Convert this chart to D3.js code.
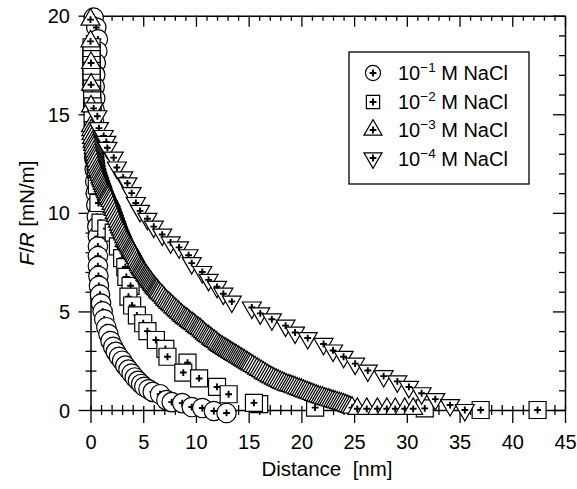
<!DOCTYPE html>
<html><head><meta charset="utf-8">
<script src="https://cdn.jsdelivr.net/npm/d3@7"></script>
<style>
body{margin:0;background:#fff}
svg{display:block}
text{font-family:"Liberation Sans",Arial,Helvetica,sans-serif;fill:#000}
</style>
</head><body>
<svg id="c" width="577" height="489"></svg>
<script>
// ---- data ----
const legendExponents = ["−1", "−2", "−3", "−4"];
const legendUnit = " M NaCl";
const xTickLabels = [0, 5, 10, 15, 20, 25, 30, 35, 40, 45];
const yTickLabels = [0, 5, 10, 15, 20];
const xTitle = "Distance  [nm]";

// 10^-1 M NaCl (circles)
const nacl1 = [[0.3,19.9],[0.55,19.4],[0.7,18.8],[0.65,18.2],[0.5,17.6],[0.45,17.0],[0.4,16.4],[0.45,15.8],[0.4,15.2],[0.35,14.6],[0.3,14.0],[0.3,13.4],[0.35,12.8],[0.4,12.2],[0.45,11.6],[0.5,11.0],[0.55,10.4],[0.6,9.8],[0.65,9.3],[0.7,8.8],[0.7,8.3],[0.7,7.8],[0.7,7.3],[0.75,6.8],[0.8,6.3],[0.9,5.85],[1.0,5.4],[1.15,5.0],[1.3,4.6],[1.5,4.2],[1.7,3.85],[1.9,3.5],[2.15,3.2],[2.4,2.95],[2.7,2.7],[3.0,2.5],[3.3,2.25],[3.6,2.05],[3.9,1.85],[4.2,1.65],[4.5,1.48],[4.8,1.32],[5.1,1.18],[5.5,1.05],[5.9,0.92],[6.6,0.8],[7.2,0.5],[7.7,0.4],[8.7,0.35],[9.6,0.15],[10.6,0.1],[11.7,-0.05],[12.9,-0.15]];

// 10^-2 M NaCl (squares)
const nacl2 = [[0.1,18.4],[0.1,18.1],[0.1,17.8],[0.1,17.5],[0.1,17.2],[0.1,16.9],[0.1,16.6],[0.15,16.3],[0.15,16.0],[0.15,15.7],[0.2,15.4],[0.2,14.8],[0.25,14.2],[0.3,13.6],[0.4,13.0],[0.5,12.2],[0.6,11.4],[0.75,10.5],[0.95,9.5],[1.5,9.2],[2.2,9.0],[2.6,8.3],[3.0,7.7],[3.3,7.25],[3.4,6.75],[3.8,6.3],[3.6,5.75],[3.95,5.3],[4.4,4.8],[5.0,4.4],[5.4,4.0],[6.2,3.55],[7.1,3.1],[7.3,2.7],[9.2,2.4],[8.8,1.9],[10.3,1.6],[12.0,1.17],[13.1,0.8],[16.0,0.3],[15.5,0.36],[21.3,0.12],[31.7,0.08],[37.0,0.0],[42.4,0.0]];

// 10^-3 M NaCl (up triangles)
const nacl3 = [[0.0,19.8],[0.0,18.7],[0.05,17.6],[0.05,16.5],[0.05,15.4],
[0.05,14.4],[0.08,14.2],[0.1,14.0],[0.15,13.8],[0.2,13.6],[0.25,13.45],[0.3,13.3],[0.35,13.12],[0.4,12.95],[0.45,12.8],[0.5,12.65],[0.57,12.47],[0.65,12.3],[0.72,12.17],[0.8,12.05],[0.87,11.92],[0.95,11.8],[1.02,11.7],[1.1,11.6],[1.17,11.47],[1.25,11.35],[1.32,11.25],[1.4,11.15],[1.47,11.05],[1.55,10.95],[1.62,10.87],[1.7,10.8],[1.8,10.7],[1.9,10.6],[2.0,10.45],[2.1,10.3],[2.2,10.15],[2.3,10.0],[2.4,9.85],[2.5,9.7],[2.6,9.55],[2.7,9.4],[2.8,9.27],[2.9,9.15],[3.0,9.02],[3.1,8.9],[3.2,8.77],[3.3,8.65],[3.4,8.55],[3.5,8.45],[3.6,8.35],[3.7,8.25],[3.8,8.17],[3.9,8.1],[4.0,8.0],[4.1,7.9],[4.2,7.8],[4.3,7.7],[4.4,7.57],[4.5,7.45],[4.6,7.35],[4.7,7.25],[4.8,7.17],[4.9,7.1],[5.0,7.02],[5.1,6.95],[5.2,6.87],[5.3,6.8],[5.4,6.72],[5.5,6.65],[5.6,6.57],[5.7,6.5],[5.8,6.42],[5.9,6.35],[6.0,6.27],[6.1,6.2],[6.2,6.15],[6.3,6.1],[6.4,6.02],[6.5,5.95],[6.65,5.87],[6.8,5.8],[6.95,5.7],[7.1,5.6],[7.25,5.52],[7.4,5.45],[7.55,5.37],[7.7,5.3],[7.85,5.22],[8.0,5.15],[8.15,5.07],[8.3,5.0],[8.45,4.92],[8.6,4.85],[8.75,4.77],[8.9,4.7],[9.05,4.65],[9.2,4.6],[9.35,4.52],[9.5,4.45],[9.65,4.4],[9.8,4.35],[9.95,4.27],[10.1,4.2],[10.25,4.15],[10.4,4.1],[10.55,4.02],[10.7,3.95],[10.85,3.87],[11.0,3.8],[11.15,3.75],[11.3,3.7],[11.45,3.62],[11.6,3.55],[11.75,3.5],[11.9,3.45],[12.05,3.37],[12.2,3.3],[12.35,3.25],[12.5,3.2],[12.65,3.15],[12.8,3.1],[12.95,3.05],[13.1,3.0],[13.25,2.95],[13.4,2.9],[13.55,2.85],[13.7,2.8],[13.85,2.75],[14.0,2.7],[14.15,2.65],[14.3,2.6],[14.45,2.55],[14.6,2.5],[14.75,2.45],[14.9,2.4],[15.05,2.35],[15.2,2.3],[15.4,2.23],[15.6,2.17],[15.8,2.1],[16.0,2.03],[16.2,1.97],[16.4,1.9],[16.6,1.83],[16.8,1.77],[17.0,1.7],[17.2,1.65],[17.4,1.59],[17.6,1.54],[17.8,1.49],[18.0,1.43],[18.2,1.38],[18.4,1.33],[18.6,1.28],[18.8,1.25],[19.0,1.22],[19.2,1.18],[19.4,1.14],[19.6,1.1],[19.8,1.06],[20.0,1.02],[20.2,0.97],[20.4,0.93],[20.6,0.89],[20.8,0.85],[21.0,0.81],[21.2,0.77],[21.4,0.73],[21.6,0.69],[21.8,0.65],[22.0,0.62],[22.2,0.58],[22.4,0.55],[22.6,0.52],[22.8,0.48],[23.0,0.45],[23.2,0.42],[23.4,0.38],[23.6,0.35],[23.8,0.32],[24.0,0.28],[24.2,0.24],[24.4,0.2],[24.6,0.16],[24.8,0.12],
[25.3,0.06],[26.2,0.06],[27.2,0.06],[28.1,0.06],[28.9,0.06],[29.8,0.06],[30.6,0.06]];

// 10^-4 M NaCl (down triangles)
const nacl4 = [[0.3,15.3],[0.65,14.9],[0.8,14.3],[1.25,13.9],[1.5,13.6],[1.6,13.3],[2.2,12.8],[2.5,12.3],[3.1,11.8],[3.5,11.5],[3.9,11.0],[4.3,10.5],[4.7,10.1],[5.4,9.7],[6.0,9.3],[6.8,8.9],[7.6,8.5],[8.4,8.25],[9.3,7.85],[9.6,7.45],[10.6,7.0],[11.2,6.6],[12.0,6.25],[12.6,5.9],[13.4,5.5],[15.3,5.2],[16.1,4.9],[17.2,4.6],[18.5,4.28],[19.4,3.93],[20.6,3.65],[22.1,3.35],[23.0,3.02],[24.0,2.7],[25.1,2.35],[26.3,2.0],[27.8,1.72],[29.1,1.45],[30.2,1.17],[31.4,0.85],[32.7,0.55],[34.1,0.25],[35.5,0.0]];

const seriesList = [nacl1, nacl2, nacl3, nacl4];
const seriesShapes = ["circle", "square", "up", "down"];

// ---- drawing ----
const svg = d3.select("#c");
const x = d3.scaleLinear().domain([0, 45]).range([90.5, 565]);
const y = d3.scaleLinear().domain([0, 20]).range([410, 15.7]);
const xMinor = d3.range(0, 46).filter(v => v % 5 !== 0);
const yMinor = d3.range(0, 21).filter(v => v % 5 !== 0);

function clean(g, keepDomain) {
  g.attr("font-family", null).attr("font-size", null);
  if (!keepDomain) g.select(".domain").remove();
  else g.select(".domain").attr("stroke", "#000").attr("stroke-width", 1.5);
  g.selectAll(".tick line").attr("stroke", "#000").attr("stroke-width", 1.3);
}

// bottom
const gbM = svg.append("g").attr("transform", `translate(0,${y(0)})`)
  .call(d3.axisBottom(x).tickValues(xTickLabels).tickSize(13).tickSizeOuter(0).tickFormat(d => String(d)));
clean(gbM, true);
gbM.selectAll(".tick line").attr("y1", -4);
gbM.selectAll(".tick text").attr("y", 39).attr("dy", 0).attr("font-size", 20);
const gbm = svg.append("g").attr("transform", `translate(0,${y(0)})`)
  .call(d3.axisBottom(x).tickValues(xMinor).tickSize(5).tickFormat(""));
clean(gbm, false);
gbm.selectAll(".tick line").attr("y1", -5);

// top
const gtM = svg.append("g").attr("transform", `translate(0,${y(20)})`)
  .call(d3.axisTop(x).tickValues(xTickLabels).tickSize(-11).tickSizeOuter(0).tickFormat(""));
clean(gtM, true);
const gtm = svg.append("g").attr("transform", `translate(0,${y(20)})`)
  .call(d3.axisTop(x).tickValues(xMinor).tickSize(-5).tickFormat(""));
clean(gtm, false);

// left
const glM = svg.append("g").attr("transform", `translate(${x(0)},0)`)
  .call(d3.axisLeft(y).tickValues(yTickLabels).tickSize(12).tickSizeOuter(0).tickFormat(d => String(d)));
clean(glM, true);
glM.selectAll(".tick text").attr("x", -20.5).attr("dy", "0.35em").attr("font-size", 20);
const glm = svg.append("g").attr("transform", `translate(${x(0)},0)`)
  .call(d3.axisLeft(y).tickValues(yMinor).tickSize(5).tickFormat(""));
clean(glm, false);
glm.selectAll(".tick line").attr("x1", 6);

// right
const grM = svg.append("g").attr("transform", `translate(${x(45)},0)`)
  .call(d3.axisRight(y).tickValues(yTickLabels).tickSize(-12).tickSizeOuter(0).tickFormat(""));
clean(grM, true);
const grm = svg.append("g").attr("transform", `translate(${x(45)},0)`)
  .call(d3.axisRight(y).tickValues(yMinor).tickSize(-6).tickFormat(""));
clean(grm, false);

// titles
svg.append("text").attr("x", 327).attr("y", 476).attr("text-anchor", "middle")
  .attr("font-size", 20.5).style("white-space", "pre").text(xTitle);
const yt = svg.append("text").attr("transform", "translate(34,213) rotate(-90)")
  .attr("text-anchor", "middle").attr("font-size", 20.5).style("white-space", "pre");
yt.append("tspan").attr("font-style", "italic").text("F");
yt.append("tspan").text("/");
yt.append("tspan").attr("font-style", "italic").text("R");
yt.append("tspan").text(" [mN/m]");

// markers
function symbolPath(shape, scale) {
  if (shape === "circle") return d3.symbol().type(d3.symbolCircle).size(Math.PI * Math.pow(9.7 * scale, 2))();
  if (shape === "square") return d3.symbol().type(d3.symbolSquare).size(Math.pow(17 * scale, 2))();
  return d3.symbol().type(d3.symbolTriangle).size(Math.sqrt(3) / 4 * Math.pow(19 * scale, 2))();
}
function drawMarker(parent, shape, cx, cy, scale) {
  const g = parent.append("g").attr("transform", `translate(${cx},${cy})`);
  g.append("path").attr("d", symbolPath(shape, scale))
    .attr("transform", shape === "down" ? "rotate(180)" : null)
    .attr("fill", "#fff").attr("stroke", "#000").attr("stroke-width", 1.2);
  const a = 3.4;
  g.append("path").attr("d", `M${-a},0H${a}M0,${-a}V${a}`)
    .attr("stroke", "#000").attr("stroke-width", 1.9).attr("fill", "none");
}
const plot = svg.append("g");
seriesList.forEach((data, i) => {
  const sg = plot.append("g");
  data.forEach(d => drawMarker(sg, seriesShapes[i], x(d[0]), y(d[1]), 1));
});

// legend
const lg = svg.append("g");
lg.append("rect").attr("x", 349).attr("y", 52).attr("width", 180).attr("height", 132)
  .attr("fill", "#fff").attr("stroke", "#000").attr("stroke-width", 1.3);
const legSymY = [73, 102, 130, 158];
const legScale = [0.78, 0.78, 0.95, 0.95];
const legTextY = [80, 109, 137, 166];
seriesShapes.forEach((s, i) => {
  drawMarker(lg, s, 373, legSymY[i], legScale[i]);
  const t = lg.append("text").attr("x", 398).attr("y", legTextY[i]).attr("font-size", 20);
  t.append("tspan").text("10");
  t.append("tspan").attr("font-size", 13.5).attr("dy", -8).text(legendExponents[i]);
  t.append("tspan").attr("dy", 8).style("white-space", "pre").text(legendUnit);
});
</script>
</body></html>
